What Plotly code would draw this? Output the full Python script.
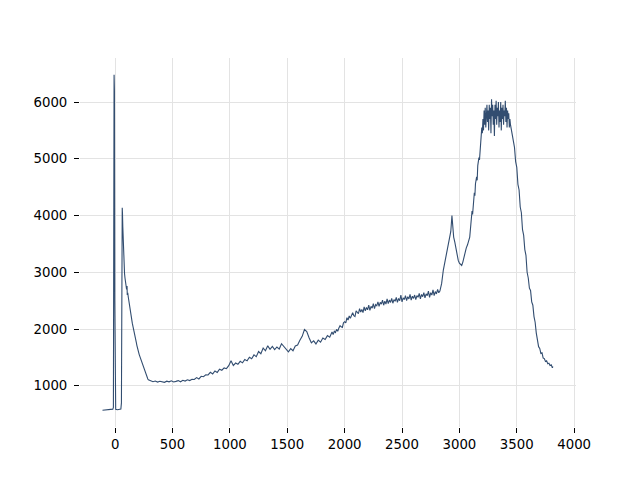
import plotly.graph_objects as go

# Segment 1: baseline, laser spike and low-wavenumber decay
x_start = [-110, -80, -50, -30, -20, -15, -12, -9, -6, -3, 0, 5, 20, 40, 50, 55, 58, 62, 64, 67, 70, 74,
           78, 82, 86, 90, 95, 100, 104, 106, 110, 115, 120, 125, 130, 135, 140, 145, 150, 155, 160, 165,
           170, 175, 180, 185, 190, 195, 200, 205, 210, 215, 220, 225, 230, 235, 240, 245, 250, 255, 260,
           265, 270, 275, 280, 285, 290, 295, 300]
y_start = [570, 575, 578, 585, 590, 620, 3500, 6480, 6200, 2500, 700, 585, 580, 582, 590, 700, 2500, 4135, 4050, 3800, 3550, 3250,
           3100, 2980, 2900, 2850, 2780, 2700, 2760, 2600, 2640, 2560, 2480, 2410, 2320, 2240, 2190, 2140, 2100, 2050, 2010, 1960,
           1910, 1860, 1800, 1760, 1710, 1680, 1640, 1590, 1550, 1520, 1480, 1450, 1420, 1400, 1370, 1330, 1300, 1270, 1240,
           1220, 1180, 1150, 1130, 1120, 1105, 1100, 1095]

# Segment 2: broad rising background
x_mid = [310, 330, 350, 370, 390, 410, 430, 450, 470, 490, 510, 530, 550, 570, 590, 610, 630, 650, 670, 690,
         710, 730, 750, 770, 790, 810, 830, 850, 870, 890, 910, 930, 950, 970, 990, 1010, 1030, 1050, 1070, 1090,
         1110, 1130, 1150, 1170, 1190, 1210, 1230, 1250, 1270, 1290, 1310, 1330, 1350, 1370, 1390, 1410, 1430, 1450,
         1470, 1490, 1510, 1530, 1550, 1570, 1590, 1610, 1630, 1650, 1670, 1690, 1710, 1730, 1750, 1770, 1790, 1810,
         1830, 1850, 1870,
         1890, 1900, 1910, 1920, 1930, 1940, 1950, 1960, 1970, 1980, 1990, 2000, 2010, 2020, 2030, 2040, 2050,
         2060, 2070, 2080, 2090, 2100, 2110, 2120, 2130, 2140, 2150, 2160, 2170, 2180, 2190, 2200, 2210, 2220,
         2230, 2240, 2250, 2260, 2270, 2280, 2290, 2300, 2310, 2320, 2330, 2340, 2350, 2360, 2370, 2380, 2390,
         2400, 2410, 2420, 2430, 2440, 2450, 2460, 2470, 2480, 2490, 2500, 2510, 2520, 2530, 2540, 2550, 2560,
         2570, 2580, 2590, 2600, 2610, 2620, 2630, 2640, 2650, 2660, 2670, 2680, 2690, 2700, 2710, 2720, 2730,
         2740, 2750, 2760, 2770, 2780, 2790, 2800, 2810, 2820, 2830]
y_mid = [1090, 1072, 1084, 1066, 1080, 1074, 1062, 1082, 1070, 1088, 1068, 1079, 1092, 1071, 1098, 1084, 1106, 1093, 1115, 1112,
         1146, 1122, 1168, 1160, 1194, 1192, 1238, 1210, 1262, 1236, 1292, 1275, 1316, 1302, 1356, 1440, 1358, 1402, 1380, 1432,
         1405, 1466, 1440, 1505, 1478, 1545, 1515, 1605, 1566, 1665, 1618, 1705, 1645, 1695, 1638, 1684, 1648, 1742,
         1688, 1642, 1600, 1655, 1618, 1702, 1718, 1802, 1872, 1992, 1958, 1848, 1758, 1792, 1738, 1805, 1768, 1842,
         1815, 1885, 1858,
         1950, 1905, 1960, 1940, 1995, 1960, 2020, 2060, 2040, 2030, 2110, 2130, 2110, 2200, 2160, 2230, 2190,
         2250, 2290, 2235, 2220, 2320, 2290, 2270, 2360, 2300, 2345, 2290, 2390, 2320, 2380, 2340, 2420, 2330,
         2400, 2370, 2450, 2360, 2430, 2410, 2480, 2400, 2470, 2440, 2510, 2420, 2490, 2440, 2530, 2450, 2510,
         2470, 2540, 2455, 2520, 2490, 2560, 2470, 2540, 2500, 2600, 2480, 2550, 2520, 2590, 2500, 2570, 2530,
         2610, 2510, 2580, 2540, 2600, 2520, 2590, 2560, 2630, 2530, 2610, 2570, 2640, 2550, 2620, 2590, 2670,
         2560, 2640, 2600, 2690, 2590, 2660, 2620, 2700, 2640, 2670]

# Segment 3: high-wavenumber band
x_end = [2845, 2860, 2875, 2890, 2905, 2915, 2925, 2935, 2942, 2950, 2960, 2970, 2980, 2990, 3000, 3010, 3020,
         3030, 3040, 3050, 3060, 3070, 3080, 3090, 3100, 3105, 3110, 3115, 3120, 3130, 3135, 3140, 3150, 3155,
         3160, 3170, 3175, 3180,
         3190, 3195, 3200, 3205, 3210, 3215, 3220, 3225, 3230, 3235, 3240, 3245, 3250, 3255, 3260, 3265, 3270,
         3275, 3280, 3285, 3290, 3295, 3300, 3305, 3310, 3315, 3320, 3325, 3330, 3335, 3340, 3345, 3350, 3355,
         3360, 3365, 3370, 3375, 3380, 3385, 3390, 3395, 3400, 3405, 3410, 3415, 3420, 3425, 3430, 3435, 3440,
         3445, 3450, 3455, 3460,
         3470, 3480, 3490, 3500, 3510, 3520, 3530, 3540, 3550, 3560, 3570, 3580, 3590, 3600, 3610, 3620, 3630,
         3640, 3650, 3660, 3670, 3680, 3690, 3700, 3710, 3720, 3730, 3740, 3750, 3760, 3770, 3780, 3790, 3800,
         3810, 3815]
y_end = [2800, 3040, 3200, 3330, 3480, 3600, 3720, 4000, 3780, 3620, 3530, 3400, 3300, 3210, 3160, 3130, 3120,
         3180, 3280, 3340, 3430, 3480, 3560, 3620, 3850, 3950, 4080, 4020, 4200, 4400, 4350, 4560, 4680, 4620,
         4880, 5020, 4980, 5180,
         5400, 5550, 5450, 5700, 5500, 5850, 5600, 5900, 5550, 5800, 5950, 5650, 5850, 5500, 5950, 5700, 5900,
         5450, 6050, 5750, 5950, 5600, 5850, 5400, 5950, 5700, 6020, 5600, 5900, 5750, 6000, 5550, 5850, 5650,
         6000, 5500, 5900, 5700, 5950, 5600, 5850, 5750, 6020, 5650, 5900, 5550, 5850, 5700, 5800, 5550, 5700,
         5600, 5550, 5450, 5400,
         5300, 5200, 4950, 4850, 4550, 4450, 4150, 4050, 3750, 3650, 3400, 3300, 3000, 2900, 2720, 2680, 2480,
         2420, 2220, 2120, 1930, 1820, 1690, 1660, 1570, 1580, 1490, 1480, 1430, 1440, 1390, 1400, 1360, 1370,
         1320, 1340]

x_ticks = [0, 500, 1000, 1500, 2000, 2500, 3000, 3500, 4000]
y_ticks = [1000, 2000, 3000, 4000, 5000, 6000]

xs = x_start + x_mid + x_end
ys = y_start + y_mid + y_end

fig = go.Figure()
fig.add_trace(go.Scatter(x=xs, y=ys, mode="lines",
                         line=dict(color="#324d70", width=1.1), showlegend=False))

axis_common = dict(showline=False, zeroline=False, showgrid=True, gridcolor="#e3e3e3", gridwidth=1,
                   ticks="outside", ticklen=5, tickwidth=1, tickcolor="#000000",
                   tickfont=dict(family="DejaVu Sans", size=13.3, color="#000000"))

# page body has an 8px margin, so the figure is shifted by 8px; compensate in the margins
fig.update_layout(
    width=640, height=480,
    margin=dict(l=72, r=72, t=50, b=61),
    paper_bgcolor="white", plot_bgcolor="white",
    xaxis=dict(range=[-306, 4016], tickvals=x_ticks, **axis_common),
    yaxis=dict(range=[275, 6775], tickvals=y_ticks, ticklabelstandoff=4, **axis_common),
)

fig.write_html("out.html")
